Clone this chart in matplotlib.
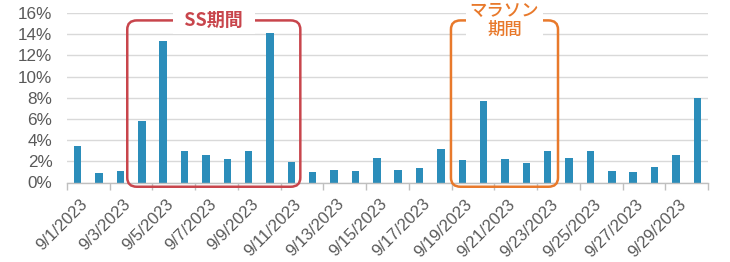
import matplotlib
matplotlib.use("Agg")
import matplotlib.pyplot as plt
from matplotlib.patches import FancyBboxPatch
from matplotlib.transforms import ScaledTranslation
import numpy as np

plt.rcParams['font.family'] = ['Liberation Sans', 'Noto Sans CJK JP', 'DejaVu Sans']

dates = [f"9/{d}/2023" for d in range(1, 31)]
values = [3.4, 0.88, 1.07, 5.76, 13.4, 2.96, 2.6, 2.24, 2.96, 14.1,
          1.98, 0.98, 1.17, 1.1, 2.33, 1.17, 1.35, 3.15, 2.08, 7.69,
          2.24, 1.8, 2.96, 2.33, 2.96, 1.07, 0.98, 1.42, 2.55, 7.94]

ss_period = ("9/4/2023", "9/11/2023")
ss_label = "SS期間"
marathon_period = ("9/19/2023", "9/23/2023")
marathon_label = "マラソン\n期間"

bar_color = "#2B8DBA"
red = "#C8454C"
orange = "#E8792B"
text_gray = "#595959"

fig = plt.figure(figsize=(7.30, 2.62), dpi=100)
ax = fig.add_axes([67/730, 1-182.5/262, (708-67)/730, (182.5-13)/262])

x = np.arange(len(dates))
ax.bar(x, values, width=0.35, color=bar_color, zorder=2)

ax.set_xlim(-0.5, len(dates) - 0.5)
ax.set_ylim(0, 16)
ax.set_yticks(np.arange(0, 17, 2))
ax.set_yticklabels([f"{v}%" for v in range(0, 17, 2)])
ax.yaxis.grid(True, color="#D9D9D9", linewidth=1.0, zorder=0)
ax.set_axisbelow(True)
ax.tick_params(axis='y', length=0, pad=10.5, labelsize=12.3, labelcolor=text_gray)

ax.set_xticks(x[::2])
ax.set_xticklabels(dates[::2], rotation=45, ha='right', rotation_mode='anchor')
ax.set_xticks(np.arange(-0.5, len(dates), 2), minor=True)
ax.tick_params(axis='x', which='major', length=0, pad=10, labelsize=12, labelcolor=text_gray)
ax.tick_params(axis='x', which='minor', length=5, color="#BFBFBF", width=1)
shift = ScaledTranslation(2.5/100, 0, fig.dpi_scale_trans)
for lab in ax.get_xticklabels():
    lab.set_transform(lab.get_transform() + shift)

for s in ['top', 'right', 'left']:
    ax.spines[s].set_visible(False)
ax.spines['bottom'].set_color("#BFBFBF")
ax.spines['bottom'].set_linewidth(1)


def period_box(period, label, color, lpad, rpad, fontsize, weight):
    i0 = dates.index(period[0])
    i1 = dates.index(period[1])
    y0, y1 = -0.4, 15.3
    box = FancyBboxPatch((i0 - lpad, y0), (i1 + rpad) - (i0 - lpad), y1 - y0,
                         boxstyle="round,pad=0,rounding_size=0.45",
                         mutation_aspect=1.9,
                         fill=False, edgecolor=color, linewidth=1.8,
                         clip_on=False, zorder=3)
    ax.add_patch(box)
    xc = (i0 - lpad + i1 + rpad) / 2
    ax.text(xc, y1, label, color=color, fontsize=fontsize,
            ha='center', va='center', fontweight=weight, linespacing=1.0,
            family=['Noto Sans CJK JP', 'DejaVu Sans'],
            bbox=dict(boxstyle="square,pad=0.2", fc="white", ec="none"),
            zorder=4, clip_on=False)


period_box(ss_period, "  " + ss_label + "  ", red, 0.68, 0.42, 13, 'bold')
period_box(marathon_period, marathon_label, orange, 0.53, 0.48, 12.5, 'medium')

fig.savefig("out.png", dpi=100)
